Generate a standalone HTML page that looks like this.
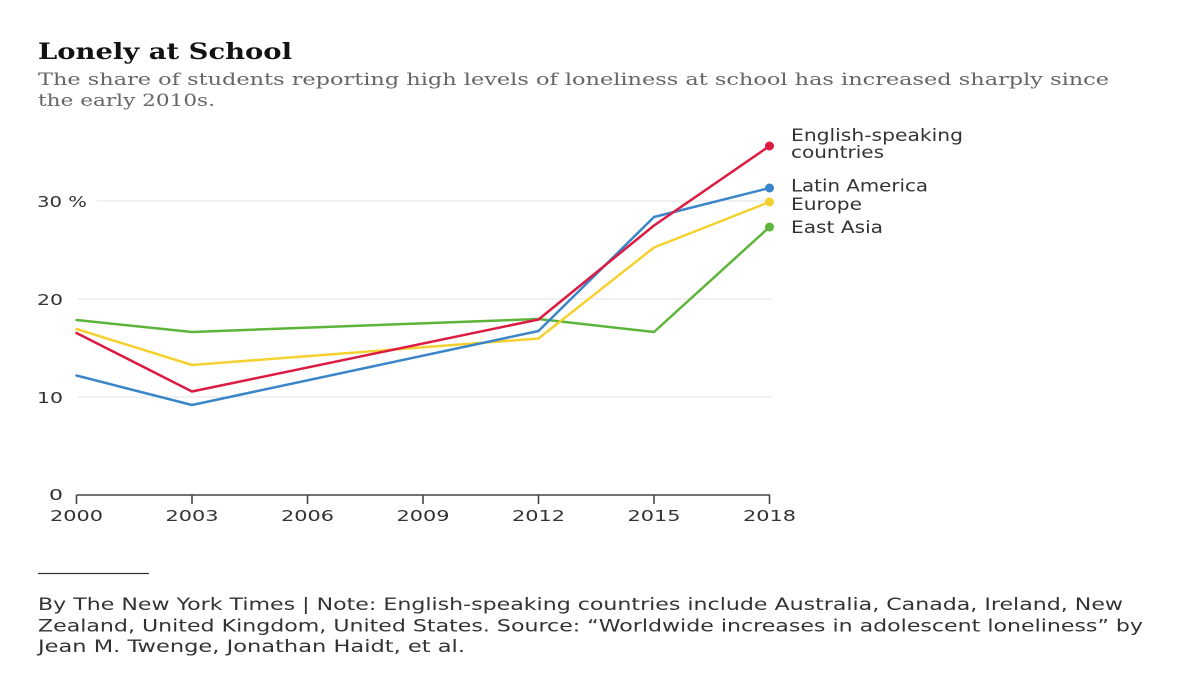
<!DOCTYPE html>
<html>
<head>
<meta charset="utf-8">
<style>
  html, body { margin: 0; padding: 0; background: #ffffff; }
  svg { display: block; }
  .sans { font-family: "DejaVu Sans", "Liberation Sans", sans-serif; }
  .serif { font-family: "DejaVu Serif", "Liberation Serif", serif; }
</style>
</head>
<body>
<svg width="1200" height="675" viewBox="0 0 1200 675" xmlns="http://www.w3.org/2000/svg">
  <rect x="0" y="0" width="1200" height="675" fill="#ffffff"/>

  <!-- Title -->
  <text class="serif" x="38" y="59" font-size="22.5" font-weight="bold" fill="#121212" textLength="254" lengthAdjust="spacingAndGlyphs">Lonely at School</text>
  <!-- Subtitle -->
  <text class="serif" x="38" y="85" font-size="17" fill="#666666" textLength="1071" lengthAdjust="spacingAndGlyphs">The share of students reporting high levels of loneliness at school has increased sharply since</text>
  <text class="serif" x="38" y="106" font-size="17" fill="#666666" textLength="177" lengthAdjust="spacingAndGlyphs">the early 2010s.</text>

  <!-- Gridlines -->
  <line x1="97" y1="201" x2="772" y2="201" stroke="#e3e3e3" stroke-width="1"/>
  <line x1="78" y1="299" x2="772" y2="299" stroke="#e3e3e3" stroke-width="1"/>
  <line x1="78" y1="397" x2="772" y2="397" stroke="#e3e3e3" stroke-width="1"/>

  <!-- Y labels -->
  <g class="sans" font-size="15.5" fill="#333">
    <text x="37" y="207" textLength="50" lengthAdjust="spacingAndGlyphs">30 %</text>
    <text x="37" y="305" textLength="26" lengthAdjust="spacingAndGlyphs">20</text>
    <text x="37" y="403" textLength="26" lengthAdjust="spacingAndGlyphs">10</text>
    <text x="49" y="500" textLength="14" lengthAdjust="spacingAndGlyphs">0</text>
  </g>

  <!-- X axis -->
  <line x1="76.5" y1="495" x2="770" y2="495" stroke="#444" stroke-width="1.6"/>
  <g stroke="#444" stroke-width="1.6">
    <line x1="76.5" y1="495" x2="76.5" y2="504"/>
    <line x1="192" y1="495" x2="192" y2="504"/>
    <line x1="307.5" y1="495" x2="307.5" y2="504"/>
    <line x1="423" y1="495" x2="423" y2="504"/>
    <line x1="538.5" y1="495" x2="538.5" y2="504"/>
    <line x1="654" y1="495" x2="654" y2="504"/>
    <line x1="769.5" y1="495" x2="769.5" y2="504"/>
  </g>
  <g class="sans" font-size="15.5" fill="#333" text-anchor="middle">
    <text x="76.5" y="521" textLength="53" lengthAdjust="spacingAndGlyphs">2000</text>
    <text x="192" y="521" textLength="53" lengthAdjust="spacingAndGlyphs">2003</text>
    <text x="307.5" y="521" textLength="53" lengthAdjust="spacingAndGlyphs">2006</text>
    <text x="423" y="521" textLength="53" lengthAdjust="spacingAndGlyphs">2009</text>
    <text x="538.5" y="521" textLength="53" lengthAdjust="spacingAndGlyphs">2012</text>
    <text x="654" y="521" textLength="53" lengthAdjust="spacingAndGlyphs">2015</text>
    <text x="769.5" y="521" textLength="53" lengthAdjust="spacingAndGlyphs">2018</text>
  </g>

  <!-- Series -->
  <g fill="none" stroke-width="2.5" stroke-linejoin="round" stroke-linecap="round">
    <polyline stroke="#5db43a" points="76.5,320 192,332 538.5,319 654,332 769.5,227"/>
    <polyline stroke="#f5d130" points="76.5,329 192,365 538.5,338.5 654,247.5 769.5,202"/>
    <polyline stroke="#3a86c8" points="76.5,375.5 192,405 538.5,331 654,217 769.5,188"/>
    <polyline stroke="#dc1a42" points="76.5,333 192,391.5 538.5,319.5 654,225.5 769.5,146"/>
  </g>
  <circle cx="769.5" cy="227" r="4.5" fill="#5db43a"/>
  <circle cx="769.5" cy="202" r="4.5" fill="#f5d130"/>
  <circle cx="769.5" cy="188" r="4.5" fill="#3a86c8"/>
  <circle cx="769.5" cy="146" r="4.5" fill="#dc1a42"/>

  <!-- Series labels -->
  <g class="sans" font-size="16.5" fill="#333">
    <text x="791" y="141" textLength="172" lengthAdjust="spacingAndGlyphs">English-speaking</text>
    <text x="791" y="158" textLength="93" lengthAdjust="spacingAndGlyphs">countries</text>
    <text x="791" y="191.5" textLength="137" lengthAdjust="spacingAndGlyphs">Latin America</text>
    <text x="791" y="210" textLength="71" lengthAdjust="spacingAndGlyphs">Europe</text>
    <text x="791" y="233" textLength="92" lengthAdjust="spacingAndGlyphs">East Asia</text>
  </g>

  <!-- Footer -->
  <line x1="38" y1="573.5" x2="149" y2="573.5" stroke="#333" stroke-width="1.3"/>
  <g class="sans" font-size="16.5" fill="#333">
    <text x="38" y="610" textLength="1085" lengthAdjust="spacingAndGlyphs">By The New York Times | Note: English-speaking countries include Australia, Canada, Ireland, New</text>
    <text x="38" y="631.5" textLength="1105" lengthAdjust="spacingAndGlyphs">Zealand, United Kingdom, United States. Source: “Worldwide increases in adolescent loneliness” by</text>
    <text x="38" y="652" textLength="427" lengthAdjust="spacingAndGlyphs">Jean M. Twenge, Jonathan Haidt, et al.</text>
  </g>
</svg>
</body>
</html>
